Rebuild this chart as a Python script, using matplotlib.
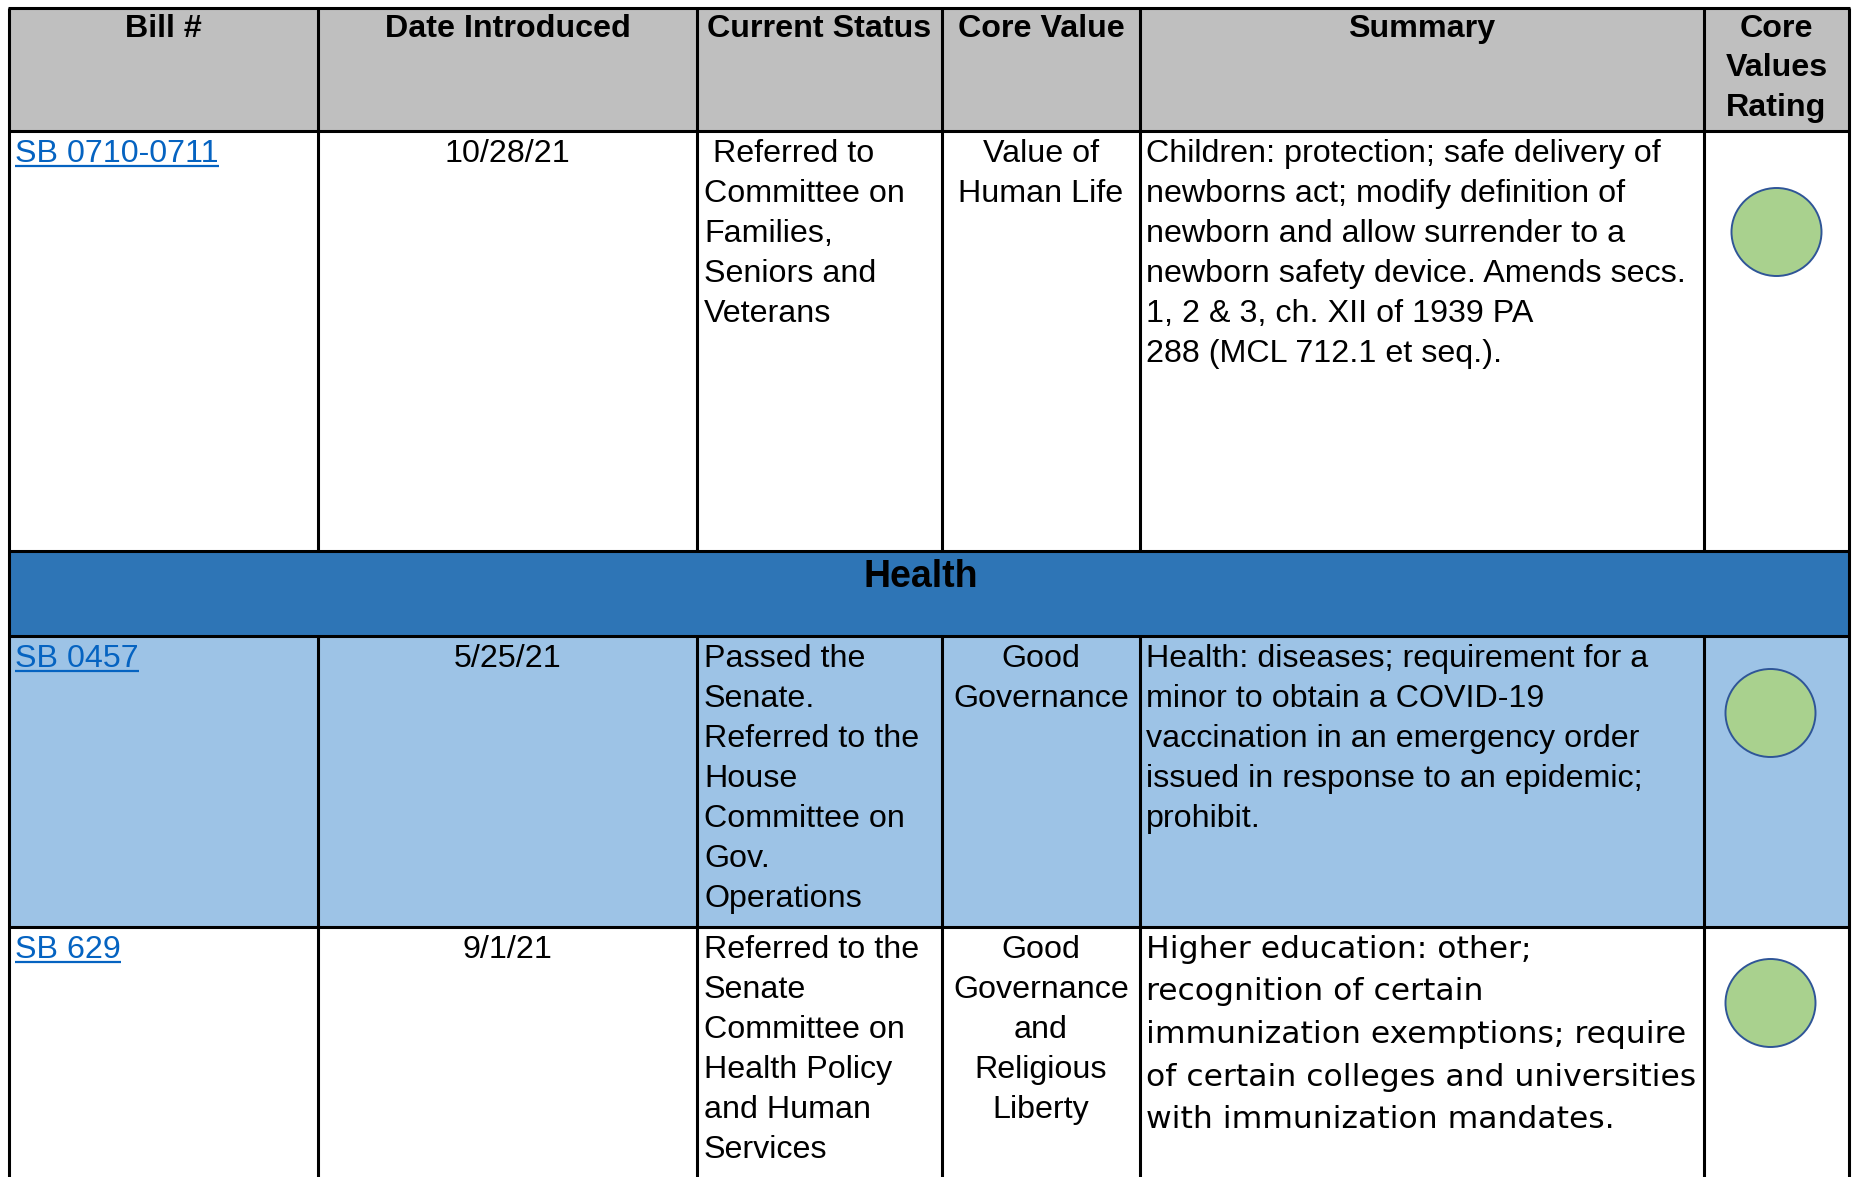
import matplotlib
matplotlib.use("Agg")
import matplotlib.pyplot as plt
from matplotlib.patches import Rectangle, Ellipse

plt.rcParams['font.family'] = ['Liberation Sans', 'DejaVu Sans']

# table content
headers = [["Bill #"], ["Date Introduced"], ["Current Status"], ["Core Value"],
           ["Summary"], ["Core", "Values", "Rating"]]
section_title = "Health"
section_before = 1  # the section band sits above this row

bills = ["SB 0710-0711", "SB 0457", "SB 629"]
dates = ["10/28/21", "5/25/21", "9/1/21"]
statuses = [
    [" Referred to", "Committee on", "Families,", "Seniors and", "Veterans"],
    ["Passed the", "Senate.", "Referred to the", "House", "Committee on", "Gov.", "Operations"],
    ["Referred to the", "Senate", "Committee on", "Health Policy", "and Human", "Services"],
]
core_values = [
    ["Value of", "Human Life"],
    ["Good", "Governance"],
    ["Good", "Governance", "and", "Religious", "Liberty"],
]
summaries = [
    ["Children: protection; safe delivery of", "newborns act; modify definition of",
     "newborn and allow surrender to a", "newborn safety device. Amends secs.",
     "1, 2 & 3, ch. XII of 1939 PA", "288 (MCL 712.1 et seq.)."],
    ["Health: diseases; requirement for a", "minor to obtain a COVID-19",
     "vaccination in an emergency order", "issued in response to an epidemic;",
     "prohibit."],
    ["Higher education: other;", "recognition of certain",
     "immunization exemptions; require", "of certain colleges and universities",
     "with immunization mandates."],
]
ratings = ["green", "green", "green"]

# layout (pixels)
W, H = 1853, 1177
col_edges = [9, 318, 697, 942, 1140, 1704, 1849]
header_top, header_bot = 8, 131
row_edges = [(131, 551), (636, 927), (927, 1180)]
band = (551, 636)
row_bg = ["white", "#9DC3E6", "white"]
circle_dy = [101, 77, 76]
circle_dx = [0, -6, -6]
summary_font = ["Liberation Sans", "Liberation Sans", "DejaVu Sans"]
summary_fs = [23.2, 23.2, 22.6]
summary_pitch = [40, 40, 42.5]

rating_colors = {"green": "#A9D18E"}
fs = 23.2
pitch = 40
base0 = 31
lw = 2.2

fig = plt.figure(figsize=(W / 100, H / 100), dpi=100)
ax = fig.add_axes([0, 0, 1, 1])
ax.set_xlim(0, W)
ax.set_ylim(H, 0)
ax.axis("off")

x0, x1 = col_edges[0], col_edges[-1]
centers = [(col_edges[i] + col_edges[i + 1]) / 2 for i in range(6)]

# backgrounds
ax.add_patch(Rectangle((x0, header_top), x1 - x0, header_bot - header_top,
                       facecolor="#BFBFBF", edgecolor="none"))
ax.add_patch(Rectangle((x0, band[0]), x1 - x0, band[1] - band[0],
                       facecolor="#2E75B6", edgecolor="none"))
for (t, b), bg in zip(row_edges, row_bg):
    ax.add_patch(Rectangle((x0, t), x1 - x0, b - t, facecolor=bg, edgecolor="none"))

# header text
for i, lines in enumerate(headers):
    for k, s in enumerate(lines):
        ax.text(centers[i], header_top + 29 + k * 39.5, s, ha="center", va="baseline",
                fontsize=fs, fontweight="bold", color="black")

ax.text(921, band[0] + 36, section_title, ha="center", va="baseline",
        fontsize=27, fontweight="bold", color="black")

fig.canvas.draw()
renderer = fig.canvas.get_renderer()
inv = ax.transData.inverted()

for r in range(len(bills)):
    top = row_edges[r][0]
    yb = top + base0
    t = ax.text(col_edges[0] + 6, yb, bills[r], ha="left", va="baseline",
                fontsize=fs, color="#0563C1")
    bb = t.get_window_extent(renderer)
    (ux0, _), (ux1, _) = inv.transform([(bb.x0, bb.y0), (bb.x1, bb.y0)])
    ax.plot([ux0, ux1], [yb + 4, yb + 4], color="#0563C1", lw=1.6,
            solid_capstyle="butt")

    ax.text(centers[1], yb, dates[r], ha="center", va="baseline", fontsize=fs)
    for k, s in enumerate(statuses[r]):
        ax.text(col_edges[2] + 7, yb + k * pitch, s, ha="left", va="baseline", fontsize=fs)
    for k, s in enumerate(core_values[r]):
        ax.text(centers[3], yb + k * pitch, s, ha="center", va="baseline", fontsize=fs)
    for k, s in enumerate(summaries[r]):
        ax.text(col_edges[4] + 6, yb + k * summary_pitch[r], s, ha="left",
                va="baseline", fontsize=summary_fs[r], family=summary_font[r])

    ax.add_patch(Ellipse((centers[5] + circle_dx[r], top + circle_dy[r]), 90, 88,
                         facecolor=rating_colors[ratings[r]], edgecolor="#2F5597",
                         lw=1.4))

# grid lines
for y in [header_top, header_bot, band[0], band[1], row_edges[2][0]]:
    ax.plot([x0 - 1, x1 + 1], [y, y], color="black", lw=lw, solid_capstyle="butt")
for x in col_edges:
    if x in (x0, x1):
        ax.plot([x, x], [header_top, H], color="black", lw=lw, solid_capstyle="butt")
    else:
        ax.plot([x, x], [header_top, band[0]], color="black", lw=lw, solid_capstyle="butt")
        ax.plot([x, x], [band[1], H], color="black", lw=lw, solid_capstyle="butt")

fig.savefig("out.png", dpi=100, facecolor="white")
